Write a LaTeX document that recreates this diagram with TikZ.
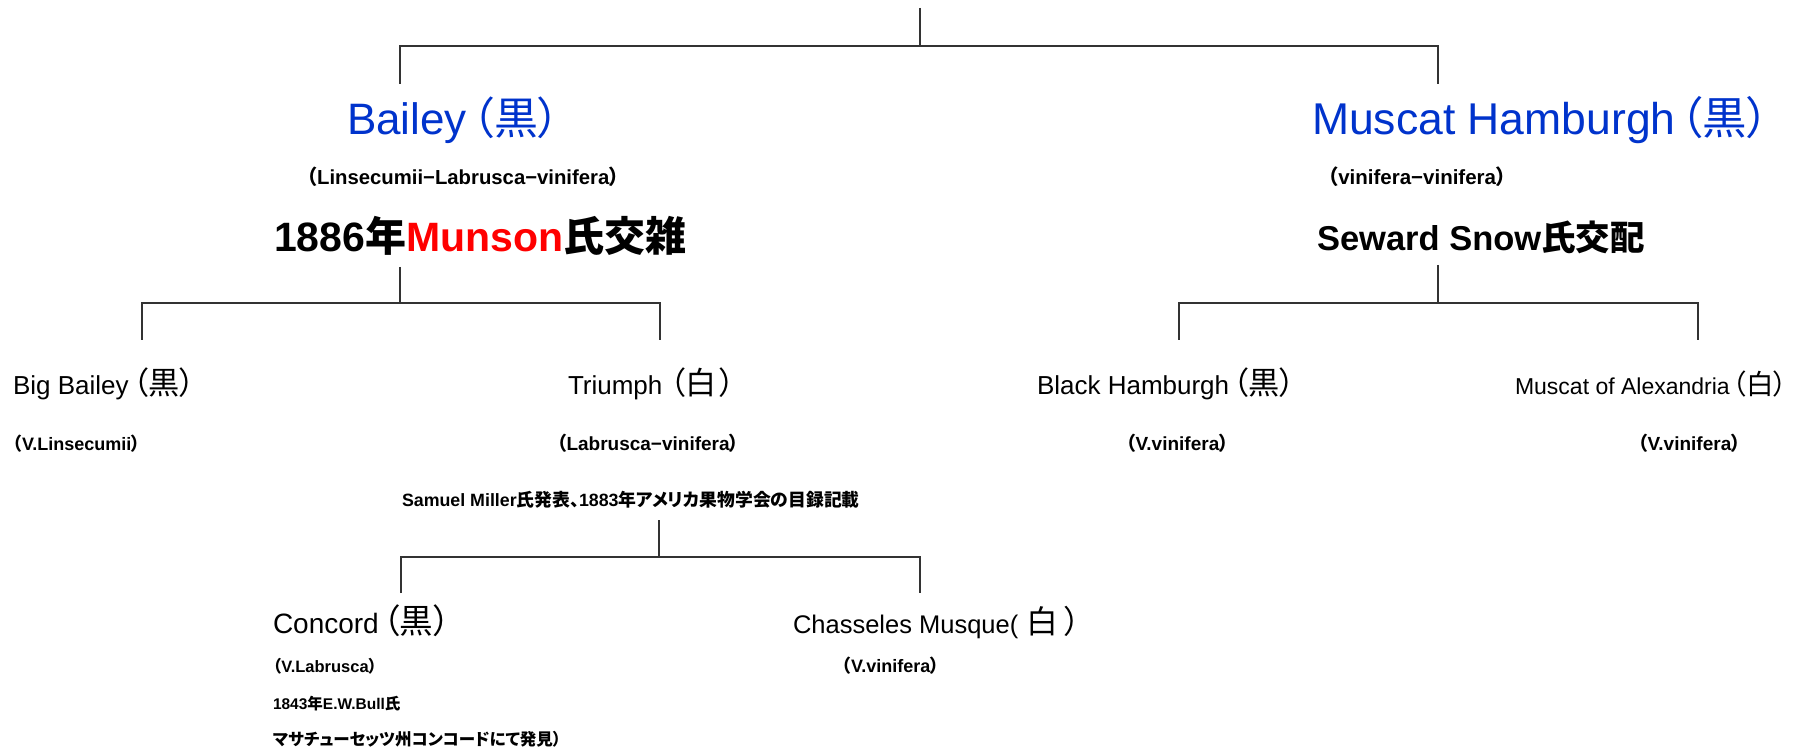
\documentclass[tikz,border=0pt]{standalone}
\usepackage{fontspec}
\setmainfont{Liberation Sans}
\newfontfamily\jp[RawFeature=+palt]{Noto Sans CJK JP}
\definecolor{tblue}{RGB}{0,51,204}
\definecolor{tred}{RGB}{255,0,0}
\newcommand\fs[1]{\fontsize{#1}{#1}\selectfont}
% bracketed CJK colour mark, enlarged, with spacing
\newcommand\jpp[3]{\kern#2\scalebox{1.2}{\jp（#1\kern#3）}}
\tikzset{
  lbl/.style={anchor=base west, inner sep=0pt, outer sep=0pt},
  small/.style={lbl, font=\bfseries},
  conn/.style={line width=1.3pt, draw=black!80},
}
\begin{document}
\begin{tikzpicture}[x=1pt, y=-1pt]
\useasboundingbox (0,0) rectangle (1802,751);
\fill[white] (0,0) rectangle (1802,751);

% ---- level 1 ----
\node[lbl, text=tblue] (bailey) at (347,135) {\fs{44}Bailey\kern.12em{\jp（黒）}};
\node[small] (baileysp) at (307,185) {\fs{20.3}{\jp（}Linsecumii−Labrusca−vinifera{\jp ）}};
\node[lbl, font=\bfseries] (munson) at (274,252) {\fs{41}1886{\jp 年}\textcolor{tred}{Munson}{\jp 氏交雑}};

\node[lbl, text=tblue] (mham) at (1312,135) {\fs{44.5}Muscat Hamburgh\kern.1em{\jp（黒）}};
\node[small] (mhamsp) at (1328,185) {\fs{20.5}{\jp（}vinifera−vinifera{\jp ）}};
\node[lbl, font=\bfseries] (snow) at (1317,251) {\fs{34.5}Seward Snow{\jp 氏交配}};

% ---- level 2 ----
\node[lbl] (bigb) at (13,394) {\fs{26}Big Bailey\jpp{黒}{.15em}{0em}};
\node[small] (bigbsp) at (13,450) {\fs{18}{\jp（}V.Linsecumii{\jp ）}};
\node[lbl] (triumph) at (568,394) {\fs{26}Triumph\jpp{白}{.3em}{.08em}};
\node[small] (triumphsp) at (557,450) {\fs{19}{\jp（}Labrusca−vinifera{\jp ）}};
\node[small] (miller) at (402,506) {\fs{17.8}Samuel Miller{\jp 氏発表、}1883{\jp 年アメリカ果物学会の目録記載}};

\node[lbl] (bham) at (1037,394) {\fs{26}Black Hamburgh\jpp{黒}{.15em}{0em}};
\node[small] (bhamsp) at (1126,450) {\fs{19}{\jp（}V.vinifera{\jp ）}};
\node[lbl] (malex) at (1515,394) {\fs{23}Muscat of Alexandria\jpp{白}{.12em}{0em}};
\node[small] (malexsp) at (1638,450) {\fs{19}{\jp（}V.vinifera{\jp ）}};

% ---- level 3 ----
\node[lbl] (concord) at (273,633) {\fs{28}Concord\jpp{黒}{.15em}{0em}};
\node[small] (concordsp) at (273,672) {\fs{16.5}{\jp（}V.Labrusca{\jp ）}};
\node[small] (bull) at (273,709) {\fs{15.5}1843{\jp 年}E.W.Bull{\jp 氏}};
\node[small] (mass) at (273,745) {\fs{16.5}{\jp マサチューセッツ州コンコードにて発見）}};
\node[lbl] (chass) at (793,633) {\fs{25.5}Chasseles Musque(\kern.3em\scalebox{1.25}{\jp 白\kern.2em）}};
\node[small] (chasssp) at (842,672) {\fs{18}{\jp（}V.vinifera{\jp ）}};

% ---- connectors ----
\coordinate (top) at (920,8);
\coordinate (j0) at (920,46);
\coordinate (dBailey) at (400,84);
\coordinate (dMham) at (1438,84);
\draw[conn] (top) -- (j0);
\draw[conn] (dBailey) |- (j0) -| (dMham);

\coordinate (sL) at (400,267);
\coordinate (jL) at (400,303);
\coordinate (dBigb) at (142,340);
\coordinate (dTri) at (660,340);
\draw[conn] (sL) -- (jL);
\draw[conn] (dBigb) |- (jL) -| (dTri);

\coordinate (sR) at (1438,265);
\coordinate (jR) at (1438,303);
\coordinate (dBham) at (1179,340);
\coordinate (dMalex) at (1698,340);
\draw[conn] (sR) -- (jR);
\draw[conn] (dBham) |- (jR) -| (dMalex);

\coordinate (sC) at (659,520);
\coordinate (jC) at (659,557);
\coordinate (dConc) at (401,593);
\coordinate (dChass) at (920,593);
\draw[conn] (sC) -- (jC);
\draw[conn] (dConc) |- (jC) -| (dChass);
\end{tikzpicture}
\end{document}
